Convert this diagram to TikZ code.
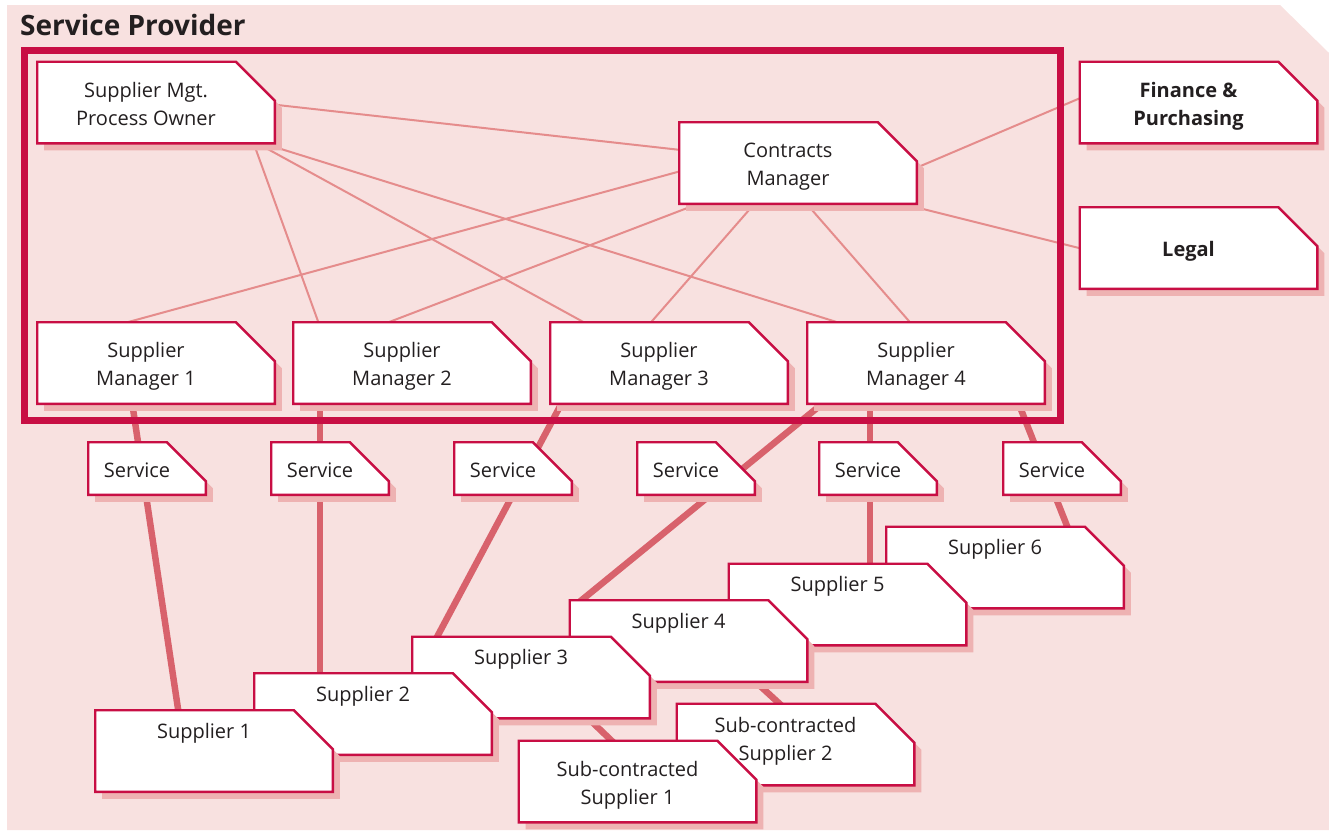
\documentclass[tikz,border=0pt]{standalone}
\usepackage{fontspec}
\setmainfont{Open Sans}
\definecolor{crimson}{RGB}{200,14,68}
\definecolor{bgpink}{RGB}{248,225,224}
\definecolor{shadowpink}{RGB}{238,178,178}
\definecolor{thinpink}{RGB}{229,140,140}
\definecolor{thickpink}{RGB}{216,98,108}
\definecolor{inkgray}{RGB}{35,31,32}
\pgfdeclarelayer{back}
\pgfdeclarelayer{links}
\pgfdeclarelayer{boxes}
\pgfsetlayers{back,links,boxes,main}
\tikzset{
  memo/.style = {rectangle, inner sep=0pt, outer sep=0pt, text=inkgray,
                 font=\fontsize{20}{28}\selectfont,
                 minimum width=237.6pt, minimum height=81.6pt},
  memobold/.style = {memo, font=\fontsize{20}{28}\selectfont\bfseries},
  service/.style = {memo, minimum width=117.6pt, minimum height=52.6pt},
  memoline/.style = {fill=white, draw=crimson, line width=2.4pt},
  thinlink/.style = {draw=thinpink, line width=2pt},
  thicklink/.style = {draw=thickpink, line width=6.5pt},
  frame/.style = {draw=crimson, line width=7pt}
}
% text of a box, a little left of the centre
\newcommand{\boxtext}[1]{\hspace*{-20pt}\raisebox{0pt}[\dimexpr\height+6pt\relax][\depth]{\begin{tabular}{@{}c@{}}#1\end{tabular}}}
% box with cut corner and shadow, round a named node
\newcommand{\memobox}[1]{%
  \fill[shadowpink, transform canvas={shift={(7pt,-7pt)}}]
    (#1.south west) -- (#1.north west) -- ([xshift=-39pt]#1.north east)
    -- ([yshift=-39pt]#1.north east) -- (#1.south east) -- cycle;
  \filldraw[memoline]
    (#1.south west) -- (#1.north west) -- ([xshift=-39pt]#1.north east)
    -- ([yshift=-39pt]#1.north east) -- (#1.south east) -- cycle;}

\begin{document}
\begin{tikzpicture}[x=1pt, y=-1pt]
	\useasboundingbox (0,0) rectangle (1329,830);

	% Title
	\node[anchor=base west, inner sep=0pt, text=inkgray, font=\fontsize{28}{34}\selectfont\bfseries] (title) at (20,35) {Service Provider};

	% Frame
	\draw[frame] (24.5,50.5) rectangle (1060.5,420.5);

	% Boxes in the frame
	\node[memo] (po) at (156,102.5) {\boxtext{Supplier Mgt.\\Process Owner}};
	\node[memo] (cm) at (798,163) {\boxtext{Contracts\\Manager}};
	\node[memo] (sm1) at (156,363) {\boxtext{Supplier\\Manager 1}};
	\node[memo] (sm2) at (412,363) {\boxtext{Supplier\\Manager 2}};
	\node[memo] (sm3) at (669,363) {\boxtext{Supplier\\Manager 3}};
	\node[memo] (sm4) at (926,363) {\boxtext{Supplier\\Manager 4}};

	% Boxes on the right
	\node[memobold] (fin) at (1198.5,102.5) {\boxtext{Finance \&\\Purchasing}};
	\node[memobold] (legal) at (1198.5,248) {\boxtext{Legal}};

	% Services
	\node[service] (svc1) at (147,468.5) {\boxtext{Service}};
	\node[service] (svc2) at (330,468.5) {\boxtext{Service}};
	\node[service] (svc3) at (513,468.5) {\boxtext{Service}};
	\node[service] (svc4) at (696,468.5) {\boxtext{Service}};
	\node[service] (svc5) at (878,468.5) {\boxtext{Service}};
	\node[service] (svc6) at (1062,468.5) {\boxtext{Service}};

	% Suppliers
	\node[memo] (sup1) at (214,751) {\boxtext{Supplier 1\\[15pt]\mbox{}}};
	\node[memo] (sup2) at (373,714) {\boxtext{Supplier 2\\[15pt]\mbox{}}};
	\node[memo] (sup3) at (531,677.5) {\boxtext{Supplier 3\\[15pt]\mbox{}}};
	\node[memo] (sup4) at (688.5,641) {\boxtext{Supplier 4\\[15pt]\mbox{}}};
	\node[memo] (sup5) at (847.5,604.5) {\boxtext{Supplier 5\\[15pt]\mbox{}}};
	\node[memo] (sup6) at (1005,567.5) {\boxtext{Supplier 6\\[15pt]\mbox{}}};
	\node[memo] (sub1) at (637.5,781.5) {\boxtext{Sub-contracted\\Supplier 1}};
	\node[memo] (sub2) at (795.5,744.5) {\boxtext{Sub-contracted\\Supplier 2\\[-14.8pt]\mbox{}}};

	% Box outlines (back to front)
	\begin{pgfonlayer}{boxes}
		\memobox{po} \memobox{cm} \memobox{fin} \memobox{legal}
		\memobox{sm1} \memobox{sm2} \memobox{sm3} \memobox{sm4}
		\memobox{svc1} \memobox{svc2} \memobox{svc3}
		\memobox{svc4} \memobox{svc5} \memobox{svc6}
		\memobox{sup6} \memobox{sup5} \memobox{sup4}
		\memobox{sup3} \memobox{sup2} \memobox{sup1}
		\memobox{sub2} \memobox{sub1}
	\end{pgfonlayer}

	\begin{pgfonlayer}{links}
		% Thin links
		\draw[thinlink] ([shift={(117,2)}]po.center) -- ([shift={(-117,-13)}]cm.center);
		\draw[thinlink] ([shift={(97,39)}]po.center) -- ([shift={(-93,-39)}]sm2.center);
		\draw[thinlink] ([shift={(98,39)}]po.center) -- ([shift={(-82,-39)}]sm3.center);
		\draw[thinlink] ([shift={(101,39)}]po.center) -- ([shift={(-83,-39)}]sm4.center);
		\draw[thinlink] ([shift={(-117,8)}]cm.center) -- ([shift={(-35,-39)}]sm1.center);
		\draw[thinlink] ([shift={(-95,39)}]cm.center) -- ([shift={(-28,-39)}]sm2.center);
		\draw[thinlink] ([shift={(-42,39)}]cm.center) -- ([shift={(-19.5,-39)}]sm3.center);
		\draw[thinlink] ([shift={(7,39)}]cm.center) -- ([shift={(-14.5,-39)}]sm4.center);
		\draw[thinlink] ([shift={(117,5.4)}]cm.center) -- ([shift={(-116.5,-5.2)}]fin.center);
		\draw[thinlink] ([shift={(116,43.75)}]cm.center) -- ([shift={(-116.5,0.75)}]legal.center);

		% Thick links
		\draw[thicklink] ([shift={(-24,39)}]sm1.center) -- ([shift={(-35.5,-39)}]sup1.center);
		\draw[thicklink] ([shift={(-92,39)}]sm2.center) -- ([shift={(-53,-39)}]sup2.center);
		\draw[thicklink] ([shift={(-106.7,39)}]sm3.center) -- ([shift={(-95.6,-37.5)}]sup3.center);
		\draw[thicklink] ([shift={(-101.6,39)}]sm4.center) -- ([shift={(-109.2,-39)}]sup4.center);
		\draw[thicklink] ([shift={(-56,39)}]sm4.center) -- ([shift={(22.5,-39)}]sup5.center);
		\draw[thicklink] ([shift={(92,39)}]sm4.center) -- ([shift={(63.6,-37.5)}]sup6.center);
		\draw[thicklink] ([shift={(65.2,39)}]sup4.center) -- ([shift={(-13.5,-38.5)}]sub2.center);
		\draw[thicklink] ([shift={(53.8,37.5)}]sup3.center) -- ([shift={(-23.5,-38.5)}]sub1.center);
	\end{pgfonlayer}

	% Background
	\begin{pgfonlayer}{back}
		\fill[bgpink] (7,5) -- (1280,5) -- (1329,53) -- (1329,830) -- (7,830) -- cycle;
	\end{pgfonlayer}

\end{tikzpicture}
\end{document}
